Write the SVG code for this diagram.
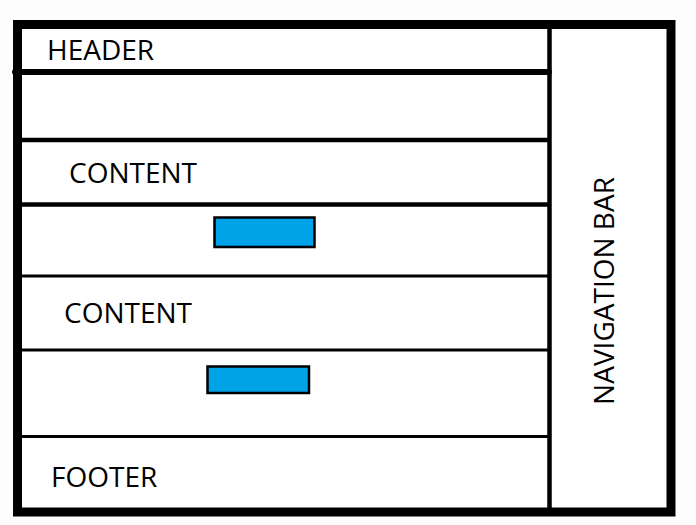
<svg xmlns="http://www.w3.org/2000/svg" width="696" height="525" viewBox="0 0 696 525">
<style>
.lbl{font-family:"Open Sans","Liberation Sans",sans-serif;font-size:28px;fill:#000}
.div{stroke:#000;fill:none}
.btn{fill:#00a2e8;stroke:#000;stroke-width:2.5}
</style>
<rect width="696" height="525" fill="#fdfdfd"/>
<g id="frame">
<rect x="17.5" y="24.5" width="653.5" height="487.5" fill="#fff" stroke="#000" stroke-width="9"/>
</g>
<g id="connectors">
<line class="div" x1="15" y1="72" x2="549" y2="72" stroke-width="6" stroke-linecap="round"/>
<line class="div" x1="17" y1="140" x2="549" y2="140" stroke-width="4.5"/>
<line class="div" x1="17" y1="204.5" x2="549" y2="204.5" stroke-width="4.5"/>
<line class="div" x1="17" y1="276" x2="549" y2="276" stroke-width="3"/>
<line class="div" x1="17" y1="350" x2="549" y2="350" stroke-width="3"/>
<line class="div" x1="17" y1="436.5" x2="549" y2="436.5" stroke-width="3"/>
<line class="div" x1="549.5" y1="24" x2="549.5" y2="512" stroke-width="4.5"/>
</g>
<g id="header"><text class="lbl" x="47" y="60">HEADER</text></g>
<g id="content1"><text class="lbl" x="69" y="183">CONTENT</text></g>
<g id="button1"><rect class="btn" x="214.5" y="217.5" width="100" height="29.5"/></g>
<g id="content2"><text class="lbl" x="64" y="323">CONTENT</text></g>
<g id="button2"><rect class="btn" x="207.5" y="366.5" width="101.5" height="26.5"/></g>
<g id="footer"><text class="lbl" x="51" y="487">FOOTER</text></g>
<g id="navbar"><text class="lbl" x="0" y="0" text-anchor="middle" transform="translate(614 291) rotate(-90)">NAVIGATION BAR</text></g>
</svg>
